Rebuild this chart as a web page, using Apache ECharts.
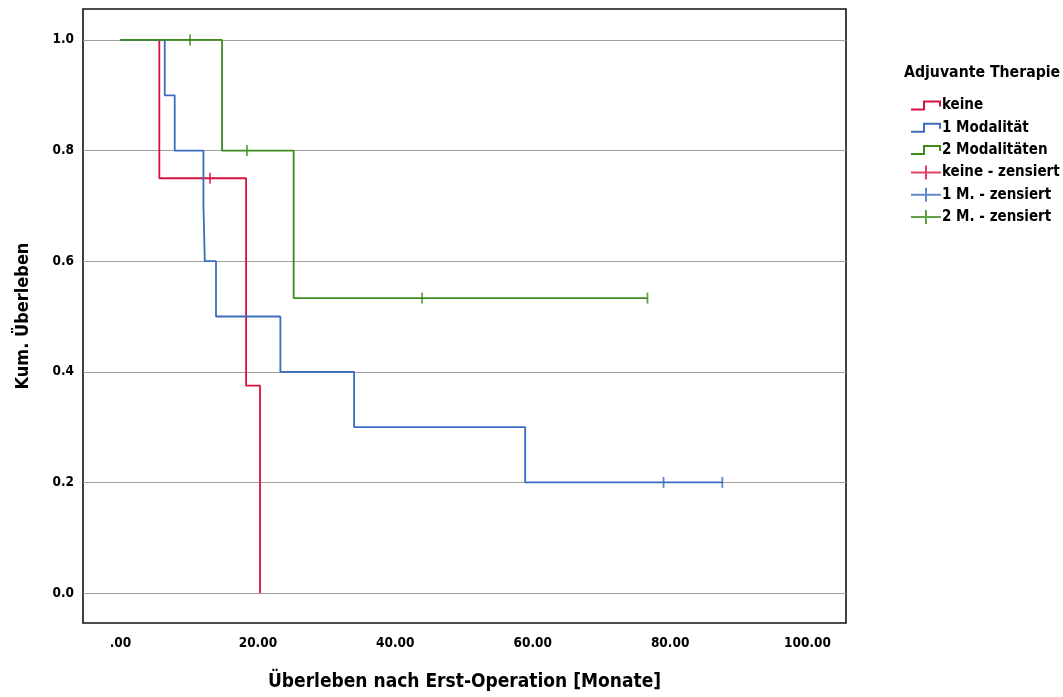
<!DOCTYPE html>
<html lang="de">
<head>
  <meta charset="UTF-8">
  <title>Kaplan-Meier: Adjuvante Therapie</title>
  <script src="https://cdn.jsdelivr.net/npm/echarts@6/dist/echarts.min.js"></script>
  <style>
    body { margin: 0; padding: 0; background: #fff; }
    #chart { width: 1063px; height: 697px; }
  </style>
</head>
<body>
  <div id="chart"></div>
  <script>
    // survival curves, [months, cumulative survival]
    let keine = [[0, 1], [5.65, 0.75], [18.28, 0.375], [20.31, 0]];
    let einsModal = [[0, 1], [6.44, 0.9], [7.89, 0.8], [12.07, 0.7], [12.27, 0.6], [13.9, 0.5],
      [23.27, 0.4], [34.0, 0.3], [58.9, 0.2], [87.6, 0.2]];
    let zweiModal = [[0, 1], [14.78, 0.8], [25.2, 0.5333], [76.7, 0.5333]];

    // censored cases
    let keineZens = [[13.03, 0.75]];
    let einsZens = [[79.04, 0.2], [87.6, 0.2]];
    let zweiZens = [[10.12, 1], [18.4, 0.8], [43.9, 0.5333], [76.7, 0.5333]];

    let xTicks = [0, 20, 40, 60, 80, 100];
    let yTicks = [0, 0.2, 0.4, 0.6, 0.8, 1.0];

    const red = '#d8123f';
    const blue = '#3a6cbf';
    const green = '#3b8a1e';
    const font = 'DejaVu Sans Condensed';

    const stepIcon = 'path://M0,8 L12,8 L12,0 L30,0 L30,6 L28,6 L28,2 L14,2 L14,10 L0,10 Z';
    const plusIcon = 'path://M0,6 L14,6 L14,0 L16,0 L16,6 L30,6 L30,8 L16,8 L16,14 L14,14 L14,8 L0,8 Z';
    const tick = 'path://M0,0 L2,0 L2,12 L0,12 Z';

    function lineSeries(name, data, color) {
      return {
        name: name,
        type: 'line',
        step: 'end',
        data: data,
        symbol: 'none',
        color: color,
        lineStyle: { color: color, width: 1.8 },
        animation: false
      };
    }

    function censSeries(name, data, color) {
      return {
        name: name,
        type: 'scatter',
        data: data,
        symbol: tick,
        symbolSize: [1.8, 11],
        color: color,
        itemStyle: { color: color },
        z: 5,
        animation: false
      };
    }

    let myChart = echarts.init(document.getElementById('chart'));

    let option = {
      backgroundColor: '#fff',
      textStyle: { fontFamily: font },
      title: {
        text: 'Adjuvante Therapie',
        left: 899,
        top: 60,
        textStyle: { fontFamily: font, fontSize: 15.7, fontWeight: 'bold', color: '#000' }
      },
      legend: {
        orient: 'vertical',
        left: 906,
        top: 93,
        itemWidth: 30,
        itemHeight: 14,
        itemGap: 7.3,
        symbolKeepAspect: true,
        textStyle: { fontFamily: font, fontSize: 15, fontWeight: 'bold', color: '#000', padding: [0, 0, 0, -4] },
        data: [
          { name: 'keine', icon: stepIcon },
          { name: '1 Modalität', icon: stepIcon },
          { name: '2 Modalitäten', icon: stepIcon },
          { name: 'keine - zensiert', icon: plusIcon },
          { name: '1 M. - zensiert', icon: plusIcon },
          { name: '2 M. - zensiert', icon: plusIcon }
        ]
      },
      grid: {
        left: 83,
        top: 9,
        width: 763,
        height: 615,
        show: true,
        borderColor: '#111',
        borderWidth: 1.6,
        containLabel: false
      },
      xAxis: {
        type: 'value',
        min: -5.46,
        max: 105.6,
        name: 'Überleben nach Erst-Operation [Monate]',
        nameLocation: 'middle',
        nameGap: 50,
        nameTextStyle: { fontFamily: font, fontSize: 19, fontWeight: 'bold', color: '#000' },
        axisLine: { show: false },
        axisTick: { show: false, customValues: xTicks },
        splitLine: { show: false },
        axisLabel: {
          customValues: xTicks,
          margin: 13,
          fontSize: 13.5,
          fontWeight: 'bold',
          color: '#000',
          formatter: function (v) { return v === 0 ? '.00' : v.toFixed(2); }
        }
      },
      yAxis: {
        type: 'value',
        min: -0.0542,
        max: 1.056,
        name: 'Kum. Überleben',
        nameLocation: 'middle',
        nameGap: 51,
        nameTextStyle: { fontFamily: font, fontSize: 18, fontWeight: 'bold', color: '#000' },
        axisLine: { show: false },
        axisTick: { show: false, customValues: yTicks },
        splitLine: { show: true, lineStyle: { color: '#a0a0a0', width: 1.2 } },
        axisLabel: {
          customValues: yTicks,
          margin: 9,
          fontSize: 13.5,
          fontWeight: 'bold',
          color: '#000',
          formatter: function (v) { return v.toFixed(1); }
        }
      },
      series: [
        lineSeries('keine', keine, red),
        lineSeries('1 Modalität', einsModal, blue),
        lineSeries('2 Modalitäten', zweiModal, green),
        censSeries('keine - zensiert', keineZens, red),
        censSeries('1 M. - zensiert', einsZens, blue),
        censSeries('2 M. - zensiert', zweiZens, green)
      ]
    };

    myChart.setOption(option);
  </script>
</body>
</html>
